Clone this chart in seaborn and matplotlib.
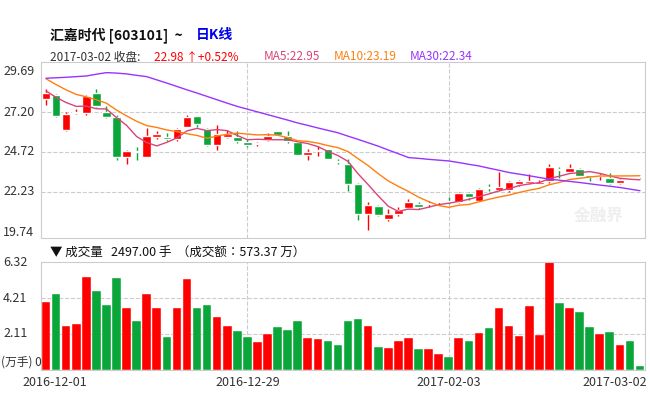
import numpy as np
import pandas as pd
import matplotlib
matplotlib.use('Agg')
import matplotlib.pyplot as plt
from matplotlib import font_manager
from matplotlib.ft2font import FT2Font
import seaborn as sns

sns.set_style('white')


# pick CJK font files that really have the simplified glyphs
def find_cjk(weight):
    best = None
    for f in font_manager.fontManager.ttflist:
        if 'CJK' not in f.name or f.weight != weight:
            continue
        try:
            ft = FT2Font(f.fname)
            if all(ft.get_char_index(ord(c)) for c in '汇嘉时线万'):
                best = f.fname
                if 'SC' in f.name:
                    break
        except Exception:
            pass
    return best


reg_path = find_cjk(400) or find_cjk('normal')
bold_path = find_cjk(700) or find_cjk('bold') or reg_path
if reg_path:
    FP = font_manager.FontProperties(fname=reg_path)
    FPB = font_manager.FontProperties(fname=bold_path)
else:
    FP = font_manager.FontProperties(family='Noto Sans CJK SC')
    FPB = font_manager.FontProperties(family='Noto Sans CJK SC', weight='bold')

# %% Data
opens = [28.0, 28.27, 26.1, 27.15, 27.14, 28.37, 27.22, 26.9, 24.41, 24.77,
         24.43, 25.64, 25.64, 25.5, 26.28, 26.98, 26.15, 25.13, 25.66, 25.64,
         25.33, 25.19, 25.46, 26.05, 25.7, 25.33, 24.51, 24.78, 24.88, 24.14,
         23.95, 22.72, 20.87, 21.34, 20.52, 20.87, 21.24, 21.49, 21.49, 21.59,
         21.69, 21.59, 22.14, 21.69, 22.5, 22.35, 22.37, 22.72, 22.76, 22.72,
         22.89, 23.6, 23.5, 23.69, 23.27, 23.2, 23.12, 22.8, 22.97, 23.05]
closes = [28.37, 26.98, 27.1, 27.2, 28.2, 27.55, 26.9, 24.43, 24.78, 24.72,
          25.7, 25.84, 25.54, 26.17, 26.9, 26.46, 25.15, 25.86, 25.84, 25.4,
          25.15, 25.29, 25.74, 25.8, 25.4, 24.53, 24.73, 24.8, 24.3, 24.11,
          22.72, 20.87, 21.44, 20.8, 20.87, 21.14, 21.59, 21.28, 21.55, 21.65,
          21.59, 22.14, 21.94, 22.41, 22.47, 22.55, 22.82, 22.89, 22.93, 22.87,
          23.79, 23.58, 23.71, 23.23, 23.17, 23.25, 22.78, 22.98, 22.94, 22.98]
highs = [28.62, 28.3, 27.2, 27.4, 28.25, 28.65, 27.6, 27.0, 24.85, 25.0,
         26.2, 26.05, 25.9, 26.2, 27.0, 26.98, 26.2, 26.4, 26.1, 26.0,
         25.5, 25.35, 25.9, 26.05, 26.0, 25.33, 24.9, 25.1, 24.9, 24.3,
         24.3, 22.8, 21.6, 21.4, 21.2, 21.3, 21.8, 21.6, 21.7, 21.7,
         21.9, 22.2, 22.2, 22.45, 22.7, 23.5, 22.9, 23.0, 23.35, 22.95,
         23.95, 23.8, 24.0, 23.7, 23.3, 23.4, 23.4, 23.05, 23.0, 23.1]
lows = [27.65, 26.9, 26.0, 27.1, 27.0, 27.5, 26.8, 24.2, 24.0, 24.2,
        24.43, 25.5, 25.4, 25.4, 26.25, 26.3, 25.1, 24.85, 25.6, 25.3,
        25.0, 25.1, 25.4, 25.75, 25.3, 24.5, 24.23, 24.45, 24.28, 24.0,
        22.3, 20.5, 19.85, 20.75, 20.4, 20.75, 21.2, 21.2, 21.3, 21.45,
        21.5, 21.55, 21.75, 21.65, 22.3, 22.3, 22.2, 22.6, 22.7, 22.7,
        22.8, 23.1, 23.45, 23.2, 22.9, 23.0, 22.75, 22.7, 22.9, 22.95]
volumes = [4.0, 4.45, 2.55, 2.7, 5.45, 4.6, 3.8, 5.4, 3.65, 2.85,
           4.45, 3.65, 1.95, 3.65, 5.3, 3.6, 3.8, 3.1, 2.55, 2.3,
           1.95, 1.65, 2.1, 2.5, 2.35, 2.85, 1.85, 1.8, 1.7, 1.45,
           2.85, 3.0, 2.55, 1.35, 1.3, 1.7, 1.85, 1.25, 1.2, 0.95,
           0.75, 1.85, 1.7, 2.15, 2.45, 3.6, 2.55, 2.0, 3.75, 2.05,
           6.32, 3.9, 3.65, 3.4, 2.5, 2.1, 2.2, 1.45, 1.7, 0.25]
# closes before the window, only used to seed MA5 / MA10
pre_closes = [30.6, 30.4, 30.0, 29.7, 29.4, 29.0, 28.7, 28.4, 28.1]
ma30 = [29.30, 29.33, 29.36, 29.40, 29.44, 29.55, 29.65, 29.62, 29.57, 29.48,
        29.40, 29.20, 29.00, 28.79, 28.58, 28.38, 28.17, 27.96, 27.75, 27.55,
        27.38, 27.21, 27.04, 26.87, 26.70, 26.52, 26.37, 26.21, 26.06, 25.91,
        25.70, 25.50, 25.29, 25.08, 24.84, 24.61, 24.37, 24.32, 24.26, 24.21,
        24.16, 24.06, 23.95, 23.85, 23.71, 23.58, 23.44, 23.34, 23.24, 23.13,
        23.03, 22.96, 22.89, 22.82, 22.74, 22.66, 22.59, 22.51, 22.41, 22.31]
tick_idx = [0, 20, 40, 59]
tick_labels = ['2016-12-01', '2016-12-29', '2017-02-03', '2017-03-02']
price_ticks = [29.69, 27.20, 24.72, 22.23, 19.74]
vol_ticks = [6.32, 4.21, 2.11, 0]

df = pd.DataFrame({'open': opens, 'close': closes, 'high': highs,
                   'low': lows, 'vol': volumes, 'ma30': ma30})
df['x'] = np.arange(len(df))
all_close = pd.Series(pre_closes + closes)
df['ma5'] = all_close.rolling(5).mean().values[len(pre_closes):]
df['ma10'] = all_close.rolling(10).mean().values[len(pre_closes):]
up = df['close'] >= df['open']
RED, GREEN = '#ff0000', '#0aa63a'
df['color'] = np.where(up, RED, GREEN)

# %% Figure
fig = plt.figure(figsize=(6.5, 4), dpi=100)
W, H = 650, 400
ax = fig.add_axes([41/W, 1-238/H, 604/W, 176/H])
axv = fig.add_axes([41/W, 1-370/H, 604/W, 108/H])

for a in (ax, axv):
    a.set_xlim(-0.5, 59.5)
    for s in a.spines.values():
        s.set_color('#cccccc')
    a.set_xticks([])
    a.set_yticks([])
    for i in tick_idx[1:3]:
        a.axvline(i, color='#cccccc', ls='--', lw=0.8, zorder=0)

# candles
ax.vlines(df['x'], df['low'], df['high'], colors=df['color'], lw=1, zorder=2)
body_lo = df[['open', 'close']].min(axis=1)
body_h = (df['close'] - df['open']).abs().clip(lower=0.06)
ax.bar(df['x'], body_h, bottom=body_lo, width=0.85, color=df['color'], zorder=3)
sns.lineplot(data=df, x='x', y='ma5', ax=ax, color='#d9447a', lw=1, zorder=4)
sns.lineplot(data=df, x='x', y='ma10', ax=ax, color='#ff7f0e', lw=1, zorder=4)
sns.lineplot(data=df, x='x', y='ma30', ax=ax, color='#9933ff', lw=1, zorder=4)
ax.set_ylim(19.37, 30.31)
ax.set_xlabel('')
ax.set_ylabel('')
for p in price_ticks[1:4]:
    ax.axhline(p, color='#cccccc', ls='--', lw=0.8, zorder=0)
for p in price_ticks:
    fig.text(3/W, ax.transData.transform((0, p))[1]/H, '%.2f' % p,
             va='center', ha='left', color='#333333',
             fontproperties=FP, size=9)
ax.text(0.965, 0.1, '金融界', transform=ax.transAxes, color='#eeeeee',
        ha='right', zorder=1, fontproperties=FPB, size=12)

# volume
axv.bar(df['x'], df['vol'], width=0.85, color=df['color'],
        edgecolor='#ffffff', lw=0.3)
axv.set_ylim(0, 6.32)
for v in vol_ticks[1:3]:
    axv.axhline(v, color='#cccccc', ls='--', lw=0.8, zorder=0)
for v in vol_ticks:
    y = axv.transData.transform((0, v))[1]/H
    if v == 0:
        fig.text(1/W, 1-362/H, '(万手) 0', va='center', ha='left',
                 color='#333333', fontproperties=FP, size=8.5)
    else:
        fig.text(3/W, y, '%.2f' % v, va='center', ha='left',
                 color='#333333', fontproperties=FP, size=9)
for i, lab in zip(tick_idx, tick_labels):
    xf = axv.transData.transform((i, 0))[0]/W
    ha = 'center' if i not in (0, 59) else ('left' if i == 0 else 'right')
    xf = 22/W if i == 0 else (647/W if i == 59 else xf)
    fig.text(xf, 1-383/H, lab, ha=ha, va='center', color='#333333',
             fontproperties=FP, size=9)

# headers
fig.text(50/W, 1-35/H, '汇嘉时代 [603101]  ~', va='center', color='#111111',
         fontproperties=FPB, size=10)
fig.text(196/W, 1-35/H, '日K线', va='center', color='#0000ee',
         fontproperties=FPB, size=10)
fig.text(50/W, 1-57/H, '2017-03-02 收盘:', va='center', color='#333333',
         fontproperties=FP, size=8.5)
fig.text(154/W, 1-57/H, '22.98 ↑+0.52%', va='center', color='#ff0000',
         fontproperties=FP, size=8.5)
fig.text(264/W, 1-57/H, 'MA5:22.95', va='center', color='#d9447a',
         fontproperties=FP, size=8.5)
fig.text(334/W, 1-57/H, 'MA10:23.19', va='center', color='#ff7f0e',
         fontproperties=FP, size=8.5)
fig.text(410/W, 1-57/H, 'MA30:22.34', va='center', color='#9933ff',
         fontproperties=FP, size=8.5)
fig.text(50/W, 1-253/H, '▼ 成交量   2497.00 手  （成交额：573.37 万）',
         va='center', color='#111111', fontproperties=FP, size=9)

fig.savefig('out.png', dpi=100, facecolor='white')
